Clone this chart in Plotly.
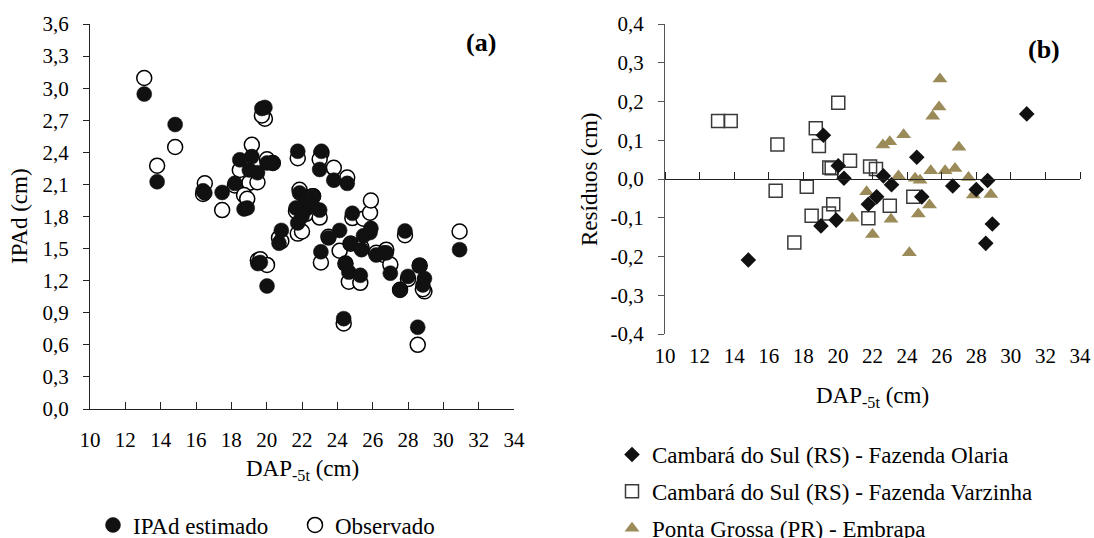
import plotly.graph_objects as go

W, H = 1094, 538

# ---------------- data ----------------
# Cambará do Sul (RS) - Fazenda Olaria
dap_olaria = [14.82, 19.02, 19.16, 19.9, 20.02, 20.35, 21.76, 22.24, 22.63, 23.1,
              24.56, 24.85, 26.64, 28.0, 28.55, 28.66, 28.93, 30.92]
res_olaria = [-0.209, -0.121, 0.113, -0.106, 0.034, 0.002, -0.065, -0.046, 0.008, -0.015,
              0.056, -0.046, -0.018, -0.027, -0.166, -0.004, -0.116, 0.168]
est_olaria = [2.66, 2.235, 2.36, 2.82, 2.30, 2.30, 2.41, 1.87, 1.985, 2.41,
              2.11, 1.83, 1.46, 1.24, 0.765, 1.345, 1.22, 1.49]
obs_olaria = [2.45, 2.115, 2.47, 2.715, 2.335, 2.30, 2.345, 1.825, 1.99, 2.395,
              2.165, 1.785, 1.44, 1.215, 0.60, 1.34, 1.10, 1.66]

# Cambará do Sul (RS) - Fazenda Varzinha
dap_varzinha = [13.07, 13.8, 16.4, 16.5, 17.48, 18.2, 18.48, 18.72, 18.9, 19.48,
                19.5, 19.64, 19.73, 20.02, 20.7, 21.76, 21.86, 22.2, 23.0, 24.36]
res_varzinha = [0.15, 0.15, -0.03, 0.089, -0.164, -0.02, -0.095, 0.131, 0.085, -0.089,
                0.03, 0.028, -0.065, 0.197, 0.047, -0.101, 0.032, 0.026, -0.069, -0.046]
est_varzinha = [2.945, 2.125, 2.04, 2.02, 2.025, 2.11, 2.33, 1.87, 1.88, 2.21,
                1.36, 1.37, 2.81, 1.15, 1.55, 1.74, 2.02, 1.95, 1.86, 0.845]
obs_varzinha = [3.095, 2.275, 2.01, 2.11, 1.86, 2.09, 2.235, 2.00, 1.965, 2.12,
                1.39, 1.40, 2.745, 1.347, 1.60, 1.64, 2.05, 1.975, 1.79, 0.80]

# Ponta Grossa (PR) - Embrapa
dap_embrapa = [20.83, 21.66, 22.0, 22.6, 23.0, 23.07, 23.5, 23.8, 24.13, 24.46, 24.65, 24.75,
               25.3, 25.37, 25.48, 25.85, 25.9, 26.2, 26.77, 27.0, 27.55, 27.83, 28.84]
res_embrapa = [-0.101, -0.033, -0.143, 0.088, 0.096, -0.104, 0.008, 0.114, -0.19, 0.002, -0.09, -0.003,
               -0.067, 0.021, 0.162, 0.186, 0.258, 0.021, 0.027, 0.082, 0.004, -0.041, -0.04]
est_embrapa = [1.67, 1.88, 1.80, 1.90, 2.24, 1.47, 1.60, 2.14, 1.67, 1.36, 1.28, 1.55,
               1.25, 1.49, 1.62, 1.65, 1.69, 1.44, 1.46, 1.27, 1.11, 1.665, 1.16]
obs_embrapa = [1.57, 1.85, 1.66, 1.99, 2.335, 1.37, 1.61, 2.255, 1.48, 1.36, 1.19, 1.545,
               1.18, 1.51, 1.78, 1.835, 1.95, 1.46, 1.49, 1.35, 1.115, 1.625, 1.12]

x_ticks = list(range(10, 36, 2))
ya_vals = [0.0, 0.3, 0.6, 0.9, 1.2, 1.5, 1.8, 2.1, 2.4, 2.7, 3.0, 3.3, 3.6]
ya_text = ["0,0", "0,3", "0,6", "0,9", "1,2", "1,5", "1,8", "2,1", "2,4", "2,7", "3,0", "3,3", "3,6"]
yb_vals = [-0.4, -0.3, -0.2, -0.1, 0.0, 0.1, 0.2, 0.3, 0.4]
yb_text = ["-0,4", "-0,3", "-0,2", "-0,1", "0,0", "0,1", "0,2", "0,3", "0,4"]

# panel (a) table built from the site arrays
dap_all = dap_olaria + dap_varzinha + dap_embrapa
est_all = est_olaria + est_varzinha + est_embrapa
obs_all = obs_olaria + obs_varzinha + obs_embrapa

FONT = 'Liberation Serif, "Times New Roman", Times, serif'
AXC = "#222222"
OLIVE = "#9a8b58"


def fx(p):
    return p / W


def fy(p):
    return 1 - p / H


fig = go.Figure()

# ---- panel (a) ----
fig.add_trace(go.Scatter(
    x=dap_all, y=obs_all, mode="markers", name="Observado",
    xaxis="x", yaxis="y", legend="legend", legendrank=2,
    marker=dict(symbol="circle", size=15, color="white",
                line=dict(color="black", width=1.5))))
fig.add_trace(go.Scatter(
    x=dap_all, y=est_all, mode="markers", name="IPAd estimado",
    xaxis="x", yaxis="y", legend="legend", legendrank=1,
    marker=dict(symbol="circle", size=15, color="#111111",
                line=dict(color="#111111", width=0.5))))

# ---- panel (b) ----
fig.add_trace(go.Scatter(
    x=dap_varzinha, y=res_varzinha, mode="markers",
    name="Cambará do Sul (RS) - Fazenda Varzinha", legendgroup="g2",
    xaxis="x2", yaxis="y2", legend="legend2", legendrank=2,
    marker=dict(symbol="square-open", size=13, color="#3a3a3a",
                line=dict(color="#3a3a3a", width=1.5))))
fig.add_trace(go.Scatter(
    x=dap_embrapa, y=res_embrapa, mode="markers",
    name="Ponta Grossa (PR) - Embrapa", legendgroup="g3",
    xaxis="x2", yaxis="y2", legend="legend2", legendrank=3,
    marker=dict(symbol="triangle-up", size=13, color=OLIVE,
                line=dict(width=0))))
fig.add_trace(go.Scatter(
    x=dap_olaria, y=res_olaria, mode="markers",
    name="Cambará do Sul (RS) - Fazenda Olaria", legendgroup="g1",
    xaxis="x2", yaxis="y2", legend="legend2", legendrank=1,
    marker=dict(symbol="diamond", size=12, color="#111111",
                line=dict(width=0))))
# axis carrying the tick marks along the zero line in (b)
fig.add_trace(go.Scatter(x=[], y=[], xaxis="x3", yaxis="y2",
                         showlegend=False, hoverinfo="skip"))

# domains (paper fractions)
xa_dom = [fx(90), fx(514)]
ya_dom = [fy(409), fy(24)]
xb_dom = [fx(665), fx(1080)]
yb_dom = [fy(334), fy(24)]
yb_rng = [-0.4, 0.4]
zero_pos = yb_dom[0] + (0 - yb_rng[0]) / (yb_rng[1] - yb_rng[0]) * (yb_dom[1] - yb_dom[0])

tickfont = dict(family=FONT, size=21, color="black")


def ann(text, x, y, size=23, angle=0):
    return dict(text=text, x=fx(x), y=fy(y), xref="paper", yref="paper",
                xanchor="center", yanchor="middle", textangle=angle, showarrow=False,
                font=dict(family=FONT, size=size, color="black"))


fig.update_layout(
    template="none",
    width=W, height=H,
    margin=dict(l=0, r=0, t=0, b=0, autoexpand=False),
    paper_bgcolor="white", plot_bgcolor="white",
    font=dict(family=FONT, color="black"),
    xaxis=dict(domain=xa_dom, range=[10, 34], tickvals=x_ticks, showgrid=False,
               zeroline=False, showline=True, linecolor=AXC, linewidth=1.3,
               ticks="inside", ticklen=7, tickcolor=AXC, tickwidth=1.3, automargin=False,
               tickfont=tickfont, ticklabelstandoff=12, anchor="y"),
    yaxis=dict(domain=ya_dom, range=[0, 3.6], tickvals=ya_vals, ticktext=ya_text,
               showgrid=False, zeroline=False, showline=True, linecolor=AXC, linewidth=1.3,
               ticks="outside", ticklen=6, tickcolor=AXC, tickwidth=1.3, automargin=False,
               tickfont=tickfont, ticklabelstandoff=10, anchor="x"),
    xaxis2=dict(domain=xb_dom, range=[10, 34], tickvals=x_ticks, showgrid=False,
                zeroline=False, showline=False, ticks="", tickfont=tickfont, automargin=False,
                ticklabelstandoff=7, ticklabeloverflow="allow", anchor="y2"),
    xaxis3=dict(overlaying="x2", range=[10, 34], tickvals=x_ticks, showgrid=False,
                zeroline=False, showline=True, linecolor=AXC, linewidth=1.3,
                ticks="outside", ticklen=7, tickcolor=AXC, tickwidth=1.3, automargin=False,
                showticklabels=False, side="top", anchor="free", position=zero_pos),
    yaxis2=dict(domain=yb_dom, range=yb_rng, tickvals=yb_vals, ticktext=yb_text,
                showgrid=False, zeroline=False, showline=True, linecolor="#555555",
                linewidth=1.3, ticks="outside", ticklen=6, tickcolor="#555555", tickwidth=1.3,
                automargin=False, tickfont=tickfont, ticklabelstandoff=10, anchor="x2"),
    legend=dict(orientation="h", x=fx(93), y=fy(525), xanchor="left", yanchor="middle",
                font=dict(family=FONT, size=23, color="black"), bgcolor="rgba(0,0,0,0)",
                entrywidth=157, entrywidthmode="pixels", itemwidth=30, traceorder="normal"),
    legend2=dict(orientation="v", x=fx(612), y=fy(433), xanchor="left", yanchor="top",
                 font=dict(family=FONT, size=23, color="black"), bgcolor="rgba(0,0,0,0)",
                 itemwidth=30, traceorder="grouped", tracegroupgap=4),
    annotations=[
        ann("IPAd (cm)", 20, 216, angle=-90),
        ann("Resíduos (cm)", 589, 179, angle=-90),
        ann("DAP<sub>-5t</sub> (cm)", 302, 470),
        ann("DAP<sub>-5t</sub> (cm)", 872, 397),
        ann("<b>(a)</b>", 481, 43, size=26),
        ann("<b>(b)</b>", 1044, 49, size=26),
    ],
)

fig.write_html("out.html",
               config={"displayModeBar": False},
               post_script="document.body.style.margin='0px';"
                           "document.body.style.overflow='hidden';")
